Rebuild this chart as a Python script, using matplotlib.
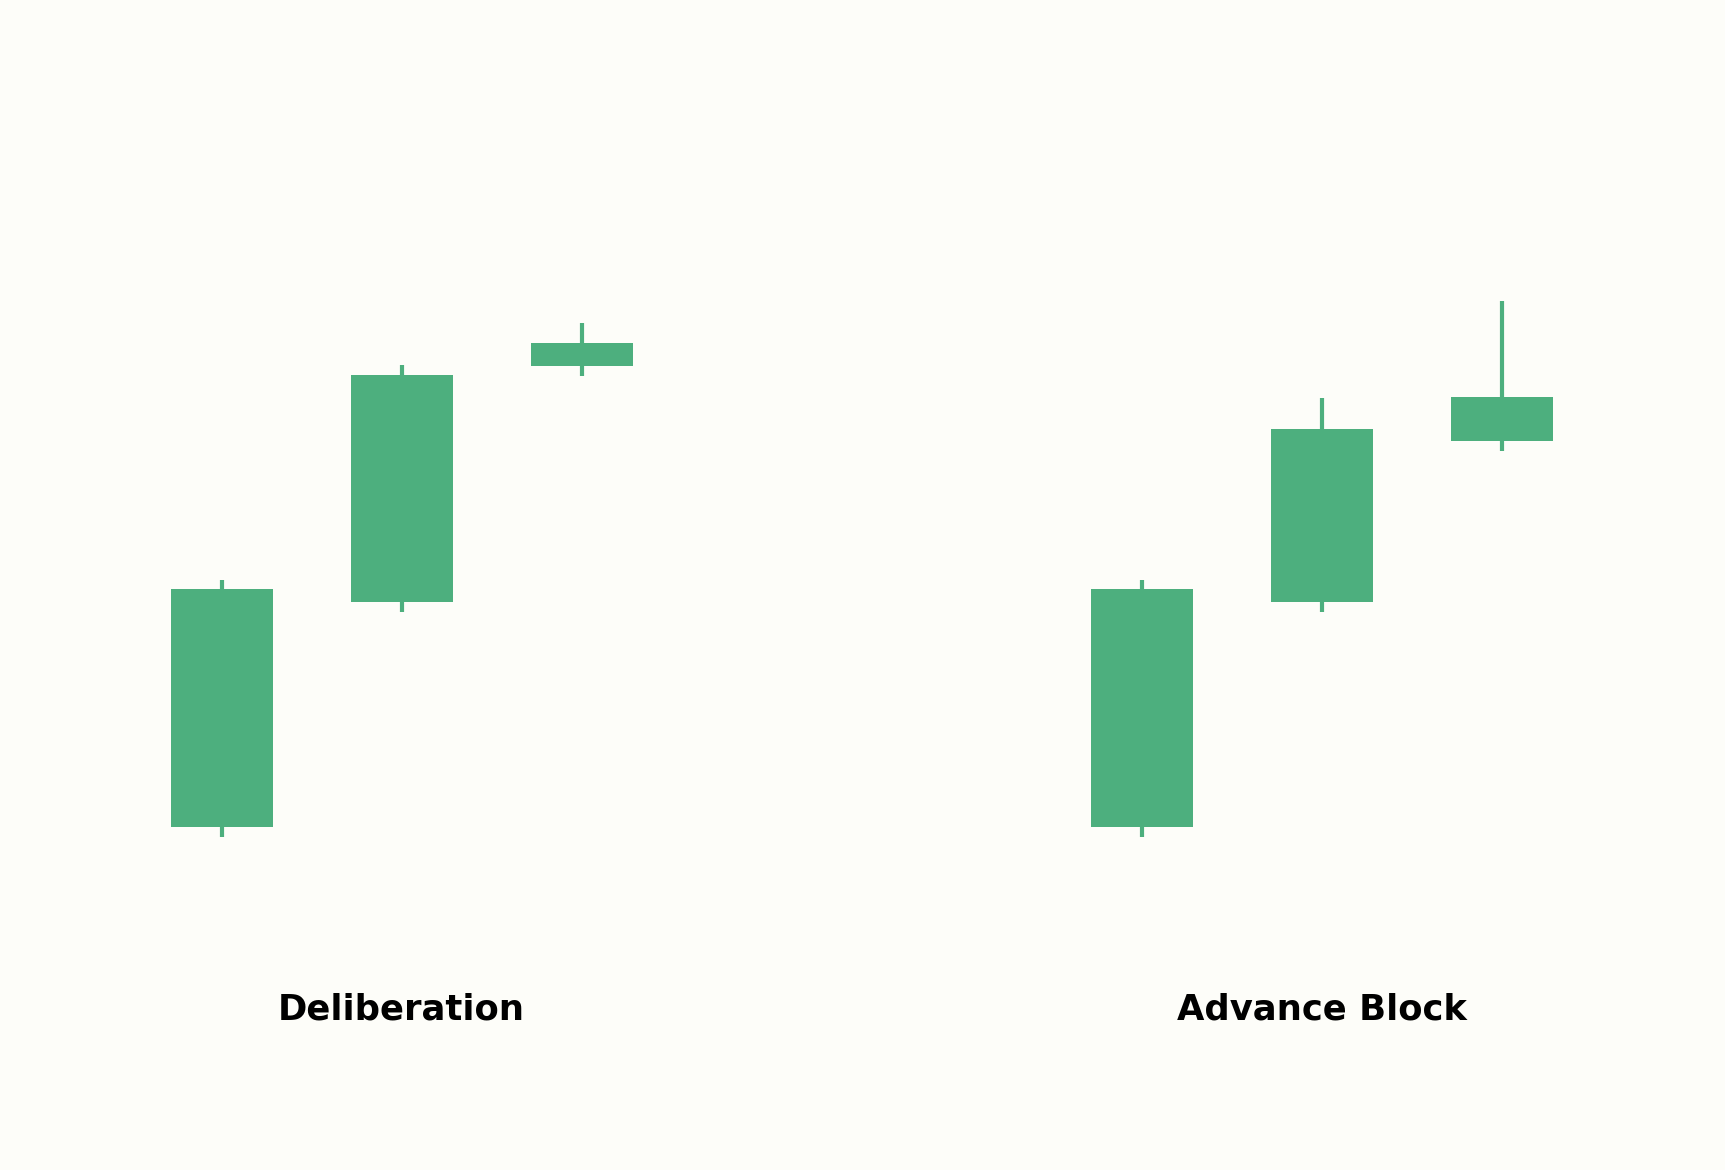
import matplotlib
matplotlib.use("Agg")
import matplotlib.pyplot as plt

# Pattern titles
patterns = ["Deliberation", "Advance Block"]

# OHLC values for each pattern (3 candles each)
delib_open = [34.3, 56.8, 80.4]
delib_high = [59.0, 80.5, 84.7]
delib_low = [33.3, 55.8, 79.4]
delib_close = [58.1, 79.5, 82.7]

adv_open = [34.3, 56.8, 72.9]
adv_high = [59.0, 77.2, 86.9]
adv_low = [33.3, 55.8, 71.9]
adv_close = [58.1, 74.1, 77.3]

candle_x = [0, 1, 2]

BG = "#fdfdf9"
GREEN = "#4daf7e"

fig = plt.figure(figsize=(11.5, 7.8), dpi=150, facecolor=BG)

groups = [
    (patterns[0], delib_open, delib_high, delib_low, delib_close, 0.02417),
    (patterns[1], adv_open, adv_high, adv_low, adv_close, 0.5576),
]

for title, o, h, l, c, left in groups:
    ax = fig.add_axes([left, 0.0, 0.4174, 1.0])
    ax.set_facecolor(BG)
    ax.vlines(candle_x, l, h, color=GREEN, linewidth=2.0, zorder=1)
    ax.bar(candle_x, [ci - oi for oi, ci in zip(o, c)], bottom=o,
           width=0.567, color=GREEN, edgecolor="none", zorder=2)
    ax.set_xlim(-1, 3)
    ax.set_ylim(0, 117)
    ax.text(1, 15.1, title, ha="center", va="baseline",
            fontsize=17, fontweight="bold", color="black",
            family="DejaVu Sans")
    ax.axis("off")

fig.savefig("out.png", dpi=150, facecolor=BG)
